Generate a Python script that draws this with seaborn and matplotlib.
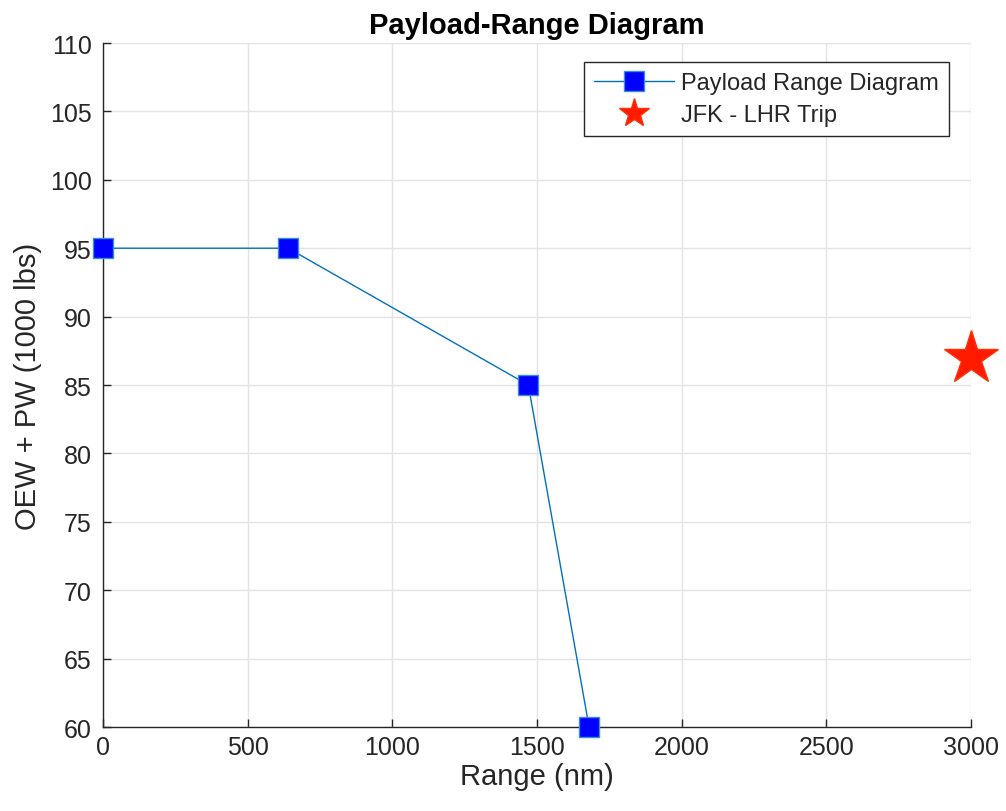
import matplotlib
matplotlib.use("Agg")
import matplotlib.pyplot as plt
import seaborn as sns
import pandas as pd

# Payload-range curve points
range_nm = [0, 640, 1470, 1680]
weight_klb = [95, 95, 85, 60]

# Trip point
trip_range = [3000]
trip_weight = [87]

sns.set_theme(style="white")
plt.rcParams['font.family'] = ['Liberation Sans', 'DejaVu Sans']

fig = plt.figure(figsize=(10.06, 8.12), dpi=100)
ax = fig.add_axes([0.1024, 0.1034, 0.8628, 0.8424])

df = pd.DataFrame({"Range": range_nm, "Weight": weight_klb})
sns.lineplot(data=df, x="Range", y="Weight", ax=ax, color="#0072BD", linewidth=1.0,
             marker="s", markersize=14, markerfacecolor="#0000FF",
             markeredgecolor="#3C8CD6", markeredgewidth=1.0,
             label="Payload Range Diagram", zorder=3, clip_on=False)

ax.plot(trip_range, trip_weight, linestyle="none", marker="*", markersize=41,
        color="#FF1A00", markeredgecolor="#FF3300", label="JFK - LHR Trip",
        zorder=4, clip_on=False)

ax.set_xlim(0, 3000)
ax.set_ylim(60, 110)
ax.set_xticks(range(0, 3001, 500))
ax.set_yticks(range(60, 111, 5))
ax.grid(True, color="#E3E3E3", linewidth=1.0)
ax.set_axisbelow(True)

for side in ["top", "right"]:
    ax.spines[side].set_visible(False)
for side in ["left", "bottom"]:
    ax.spines[side].set_color("#262626")
    ax.spines[side].set_linewidth(1.0)

ax.tick_params(axis="both", direction="in", length=6, width=1, colors="#262626",
               labelsize=18, labelcolor="#262626", left=True, bottom=True)
ax.tick_params(axis="y", pad=8)
ax.tick_params(axis="x", pad=6)

ax.set_xlabel("Range (nm)", fontsize=21, color="#262626", labelpad=2)
ax.set_ylabel("OEW + PW (1000 lbs)", fontsize=21, color="#262626", labelpad=6)
ax.set_title("Payload-Range Diagram", fontsize=21, fontweight="bold", color="black", pad=7)

leg = ax.legend(loc="upper right", bbox_to_anchor=(0.9745, 0.972), fontsize=17,
                frameon=True, fancybox=False, edgecolor="#262626", framealpha=1,
                handlelength=3.4, borderpad=0.42, labelspacing=0.42, handletextpad=0.3,
                borderaxespad=0, markerscale=1.0)
leg.get_frame().set_linewidth(1.0)
handles = leg.legend_handles
handles[1].set_markersize(22)

fig.savefig("out.png", dpi=100)
